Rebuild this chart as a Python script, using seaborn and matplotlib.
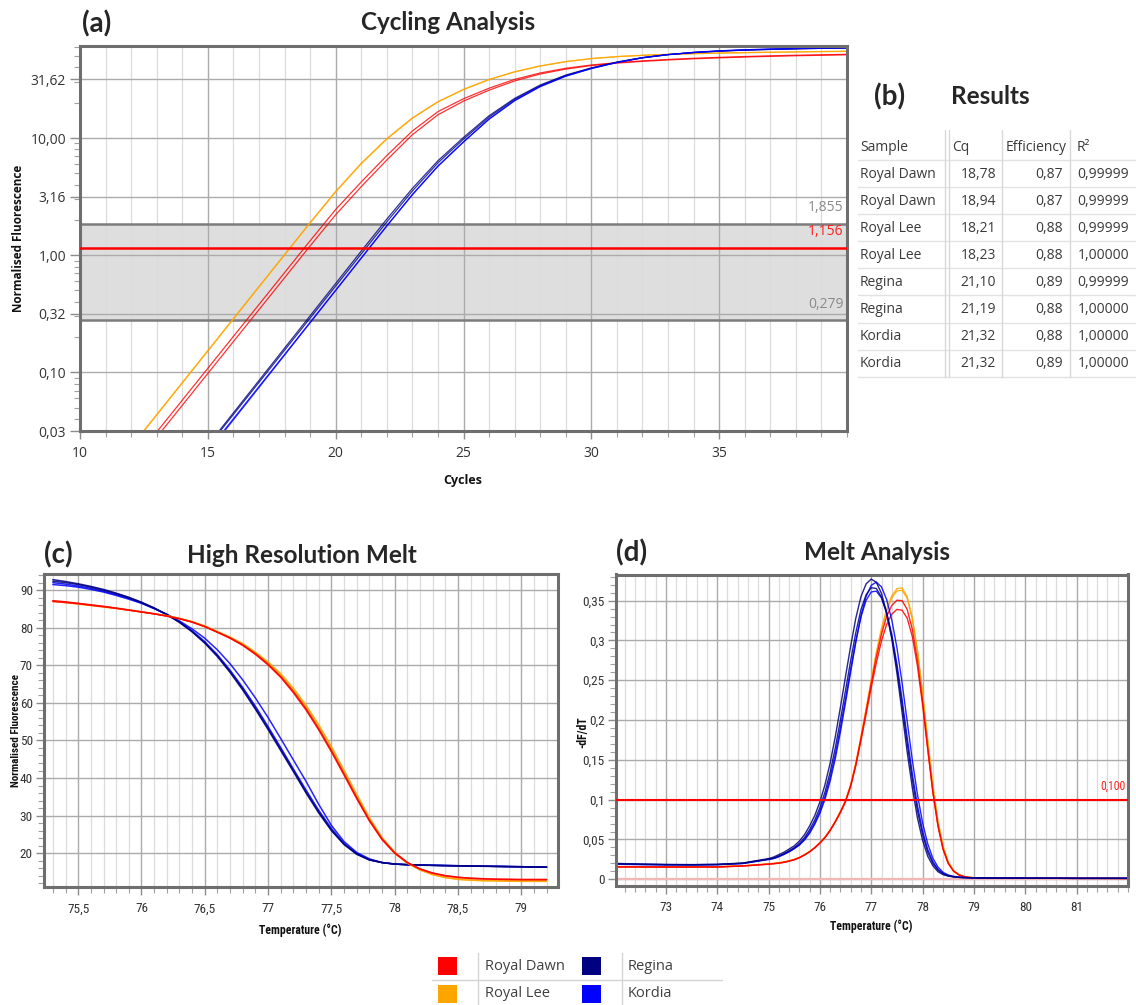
import numpy as np
import pandas as pd
import matplotlib
matplotlib.use("Agg")
import matplotlib.pyplot as plt
import seaborn as sns
from matplotlib import ticker, font_manager
from matplotlib.patches import Rectangle
from matplotlib.lines import Line2D

# ======================= DATA =======================
varieties = ["Royal Dawn", "Royal Lee", "Regina", "Kordia"]
variety_colors = ["#FF0000", "#FFA500", "#000080", "#0000FF"]

# ---- (a) Cycling analysis: log10 of normalised fluorescence per cycle ----
cycles = [12, 13, 14, 15, 16, 17, 18, 19, 20, 21, 22, 23, 24, 25, 26, 27, 28, 29, 30,
          31, 32, 33, 34, 35, 36, 37, 38, 39, 40]
amp_dawn1 = [-1.781, -1.509, -1.237, -0.965, -0.693, -0.421, -0.149, 0.123, 0.390, 0.625,
             0.850, 1.060, 1.225, 1.335, 1.425, 1.500, 1.555, 1.595, 1.623, 1.643, 1.658,
             1.670, 1.680, 1.688, 1.695, 1.701, 1.706, 1.710, 1.714]
amp_dawn2 = [-1.825, -1.553, -1.281, -1.009, -0.737, -0.465, -0.193, 0.079, 0.345, 0.585,
             0.812, 1.028, 1.198, 1.315, 1.408, 1.487, 1.546, 1.588, 1.618, 1.639, 1.654,
             1.666, 1.676, 1.684, 1.691, 1.697, 1.702, 1.706, 1.710]
amp_lee1 = [-1.632, -1.359, -1.086, -0.813, -0.540, -0.267, 0.006, 0.279, 0.545, 0.785,
            0.995, 1.172, 1.310, 1.415, 1.500, 1.565, 1.615, 1.652, 1.678, 1.695, 1.706,
            1.714, 1.720, 1.725, 1.729, 1.732, 1.735, 1.738, 1.740]
amp_lee2 = [-1.637, -1.364, -1.091, -0.818, -0.545, -0.272, 0.001, 0.274, 0.540, 0.780,
            0.990, 1.168, 1.308, 1.413, 1.498, 1.564, 1.614, 1.651, 1.677, 1.694, 1.705,
            1.713, 1.719, 1.724, 1.728, 1.731, 1.734, 1.737, 1.739]
amp_regina1 = [-2.449, -2.173, -1.897, -1.621, -1.345, -1.069, -0.793, -0.517, -0.241, 0.035,
               0.308, 0.570, 0.806, 1.005, 1.190, 1.338, 1.452, 1.537, 1.598, 1.648, 1.686,
               1.712, 1.729, 1.741, 1.750, 1.756, 1.761, 1.765, 1.768]
amp_regina2 = [-2.455, -2.181, -1.907, -1.633, -1.359, -1.085, -0.811, -0.537, -0.263, 0.011,
               0.284, 0.548, 0.788, 0.990, 1.178, 1.330, 1.446, 1.533, 1.596, 1.646, 1.685,
               1.711, 1.729, 1.741, 1.750, 1.756, 1.761, 1.765, 1.768]
amp_kordia1 = [-2.491, -2.217, -1.943, -1.669, -1.395, -1.121, -0.847, -0.573, -0.299, -0.025,
               0.249, 0.515, 0.758, 0.965, 1.160, 1.318, 1.438, 1.527, 1.592, 1.644, 1.684,
               1.711, 1.730, 1.743, 1.752, 1.758, 1.763, 1.767, 1.770]
amp_kordia2 = [-2.509, -2.233, -1.957, -1.681, -1.405, -1.129, -0.853, -0.577, -0.301, -0.025,
               0.251, 0.518, 0.762, 0.968, 1.163, 1.320, 1.440, 1.529, 1.594, 1.645, 1.685,
               1.712, 1.731, 1.744, 1.753, 1.759, 1.764, 1.768, 1.771]
cyc_threshold = 1.156
cyc_band = [0.279, 1.855]
cyc_threshold_labels = ["1,855", "1,156", "0,279"]
cyc_ytick_exponents = [-1.5, -1.0, -0.5, 0.0, 0.5, 1.0, 1.5]
cyc_xticks = [10, 15, 20, 25, 30, 35]

# ---- (b) Results table ----
table_samples = ["Royal Dawn", "Royal Dawn", "Royal Lee", "Royal Lee",
                 "Regina", "Regina", "Kordia", "Kordia"]
table_cq = [18.78, 18.94, 18.21, 18.23, 21.10, 21.19, 21.32, 21.32]
table_eff = [0.87, 0.87, 0.88, 0.88, 0.89, 0.88, 0.88, 0.89]
table_r2 = [0.99999, 0.99999, 0.99999, 1.00000, 0.99999, 1.00000, 1.00000, 1.00000]
table_header = ["Sample", "Cq", "Efficiency", "R\u00b2"]

# ---- (c) High resolution melt ----
hrm_temp = [75.3, 75.4, 75.5, 75.6, 75.7, 75.8, 75.9, 76.0, 76.1, 76.2,
            76.3, 76.4, 76.5, 76.6, 76.7, 76.8, 76.9, 77.0, 77.1, 77.2,
            77.3, 77.4, 77.5, 77.6, 77.7, 77.8, 77.9, 78.0, 78.1, 78.2,
            78.3, 78.4, 78.5, 78.6, 78.7, 78.8, 78.9, 79.0, 79.1, 79.2]
hrm_dawn1 = [87.2, 86.9, 86.5, 86.1, 85.7, 85.2, 84.7, 84.2, 83.7, 83.1,
             82.4, 81.5, 80.3, 78.8, 77.2, 75.3, 72.9, 70.1, 66.8, 62.7,
             58.1, 52.8, 47.0, 40.8, 34.5, 28.6, 23.6, 20.0, 17.5, 15.8,
             14.7, 14.0, 13.6, 13.35, 13.2, 13.1, 13.05, 13.0, 13.0, 13.0]
hrm_dawn2 = [87.0, 86.7, 86.4, 86.0, 85.6, 85.2, 84.7, 84.2, 83.7, 83.1,
             82.4, 81.5, 80.3, 78.8, 77.3, 75.4, 73.1, 70.3, 67.0, 63.0,
             58.4, 53.1, 47.3, 41.1, 34.8, 28.8, 23.8, 20.1, 17.5, 15.8,
             14.7, 14.0, 13.55, 13.3, 13.15, 13.05, 13.0, 12.95, 12.95, 12.95]
hrm_lee1 = [87.1, 86.8, 86.4, 86.0, 85.6, 85.2, 84.7, 84.2, 83.7, 83.2,
            82.5, 81.6, 80.4, 78.9, 77.4, 75.6, 73.3, 70.6, 67.4, 63.4,
            58.9, 53.6, 47.8, 41.5, 35.1, 29.0, 23.8, 20.0, 17.3, 15.5,
            14.3, 13.55, 13.1, 12.9, 12.75, 12.7, 12.65, 12.6, 12.6, 12.6]
hrm_lee2 = [87.0, 86.7, 86.3, 85.9, 85.5, 85.1, 84.7, 84.2, 83.7, 83.2,
            82.5, 81.6, 80.5, 79.0, 77.5, 75.8, 73.5, 70.9, 67.8, 63.9,
            59.4, 54.2, 48.4, 42.1, 35.7, 29.5, 24.2, 20.3, 17.5, 15.6,
            14.3, 13.5, 13.0, 12.8, 12.65, 12.6, 12.55, 12.5, 12.5, 12.5]
hrm_regina1 = [92.8, 92.3, 91.7, 91.0, 90.2, 89.2, 88.1, 86.8, 85.3, 83.5,
               81.4, 78.9, 75.9, 72.3, 68.1, 63.4, 58.3, 52.9, 47.3, 41.7,
               36.0, 30.7, 26.0, 22.3, 19.7, 18.2, 17.5, 17.1, 16.95, 16.85,
               16.78, 16.71, 16.65, 16.6, 16.54, 16.49, 16.44, 16.4, 16.35, 16.3]
hrm_regina2 = [92.4, 92.0, 91.5, 90.8, 90.0, 89.1, 88.0, 86.7, 85.2, 83.5,
               81.5, 79.0, 76.0, 72.5, 68.3, 63.7, 58.6, 53.2, 47.6, 42.0,
               36.3, 31.0, 26.2, 22.4, 19.8, 18.2, 17.5, 17.1, 16.9, 16.8,
               16.73, 16.66, 16.6, 16.55, 16.5, 16.45, 16.4, 16.35, 16.3, 16.25]
hrm_kordia1 = [92.0, 91.6, 91.1, 90.5, 89.7, 88.8, 87.8, 86.6, 85.1, 83.5,
               81.6, 79.2, 76.3, 72.8, 68.7, 64.1, 59.1, 53.7, 48.1, 42.4,
               36.8, 31.4, 26.6, 22.6, 19.9, 18.3, 17.5, 17.1, 16.95, 16.85,
               16.78, 16.72, 16.66, 16.6, 16.55, 16.5, 16.45, 16.4, 16.35, 16.3]
hrm_kordia2 = [91.5, 91.2, 90.8, 90.2, 89.5, 88.6, 87.6, 86.5, 85.1, 83.6,
               81.8, 79.7, 77.2, 74.1, 70.4, 66.1, 61.3, 56.1, 50.5, 44.8,
               39.1, 33.0, 27.4, 23.1, 20.2, 18.5, 17.5, 17.1, 16.95, 16.85,
               16.78, 16.72, 16.66, 16.6, 16.55, 16.5, 16.45, 16.4, 16.35, 16.3]
hrm_xticks = [75.5, 76.0, 76.5, 77.0, 77.5, 78.0, 78.5, 79.0]
hrm_yticks = [20, 30, 40, 50, 60, 70, 80, 90]

# ---- (d) Melt analysis (-dF/dT) ----
melt_temp = [72.0, 72.5, 73.0, 73.5, 74.0, 74.5,
             75.0, 75.1, 75.2, 75.3, 75.4, 75.5, 75.6, 75.7, 75.8, 75.9,
             76.0, 76.1, 76.2, 76.3, 76.4, 76.5, 76.6, 76.7, 76.8, 76.9,
             77.0, 77.1, 77.2, 77.3, 77.4, 77.5, 77.6, 77.7, 77.8, 77.9,
             78.0, 78.1, 78.2, 78.3, 78.4, 78.5, 78.6, 78.7, 78.8, 78.9,
             79.0, 79.5, 80.0, 80.5, 81.0, 81.5, 82.0]
melt_dawn1 = [0.0156, 0.0155, 0.0154, 0.0154, 0.0155, 0.0167,
              0.0190, 0.0196, 0.0203, 0.0214, 0.0228, 0.0246, 0.0271, 0.0306, 0.0346, 0.0396,
              0.0456, 0.0526, 0.0616, 0.0726, 0.0846, 0.0986, 0.1180, 0.1445, 0.1770, 0.2110,
              0.2460, 0.2790, 0.3080, 0.3300, 0.3440, 0.3505, 0.3500, 0.3390, 0.3140, 0.2745,
              0.2230, 0.1650, 0.1100, 0.0670, 0.0375, 0.0200, 0.0105, 0.0058, 0.0035, 0.0024,
              0.0019, 0.0015, 0.0014, 0.0013, 0.0012, 0.0012, 0.0011]
melt_dawn2 = [0.0156, 0.0155, 0.0154, 0.0154, 0.0155, 0.0167,
              0.0190, 0.0196, 0.0203, 0.0214, 0.0228, 0.0246, 0.0271, 0.0305, 0.0345, 0.0395,
              0.0455, 0.0524, 0.0612, 0.0720, 0.0838, 0.0975, 0.1165, 0.1425, 0.1740, 0.2070,
              0.2405, 0.2720, 0.2995, 0.3200, 0.3330, 0.3390, 0.3380, 0.3280, 0.3050, 0.2680,
              0.2190, 0.1630, 0.1095, 0.0670, 0.0375, 0.0200, 0.0105, 0.0058, 0.0035, 0.0024,
              0.0019, 0.0015, 0.0014, 0.0013, 0.0012, 0.0012, 0.0011]
melt_lee1 = [0.0160, 0.0158, 0.0157, 0.0157, 0.0158, 0.0170,
             0.0194, 0.0200, 0.0207, 0.0218, 0.0232, 0.0250, 0.0275, 0.0310, 0.0350, 0.0400,
             0.0460, 0.0530, 0.0620, 0.0730, 0.0850, 0.0990, 0.1190, 0.1460, 0.1790, 0.2140,
             0.2500, 0.2850, 0.3150, 0.3390, 0.3560, 0.3650, 0.3660, 0.3550, 0.3280, 0.2860,
             0.2320, 0.1720, 0.1160, 0.0710, 0.0400, 0.0210, 0.0110, 0.0060, 0.0036, 0.0025,
             0.0020, 0.0015, 0.0014, 0.0013, 0.0012, 0.0012, 0.0011]
melt_lee2 = [0.0160, 0.0158, 0.0157, 0.0157, 0.0158, 0.0170,
             0.0194, 0.0200, 0.0207, 0.0218, 0.0232, 0.0250, 0.0274, 0.0308, 0.0348, 0.0398,
             0.0457, 0.0527, 0.0615, 0.0725, 0.0845, 0.0985, 0.1180, 0.1450, 0.1775, 0.2125,
             0.2485, 0.2835, 0.3130, 0.3370, 0.3535, 0.3620, 0.3630, 0.3530, 0.3275, 0.2870,
             0.2340, 0.1750, 0.1190, 0.0730, 0.0420, 0.0220, 0.0115, 0.0062, 0.0037, 0.0025,
             0.0020, 0.0015, 0.0014, 0.0013, 0.0012, 0.0012, 0.0011]
melt_regina1 = [0.0200, 0.0192, 0.0187, 0.0185, 0.0188, 0.0205,
                0.026, 0.028, 0.031, 0.034, 0.038, 0.042, 0.048, 0.056, 0.067, 0.080,
                0.097, 0.119, 0.146, 0.179, 0.216, 0.255, 0.293, 0.328, 0.355, 0.371,
                0.377, 0.373, 0.359, 0.335, 0.302, 0.259, 0.210, 0.160, 0.115, 0.077,
                0.049, 0.029, 0.017, 0.0095, 0.0058, 0.0040, 0.0030, 0.0024, 0.0021, 0.0019,
                0.0018, 0.0015, 0.0014, 0.0013, 0.0012, 0.0012, 0.0012]
melt_regina2 = [0.0196, 0.0189, 0.0184, 0.0183, 0.0186, 0.0202,
                0.0252, 0.0267, 0.0294, 0.0323, 0.0359, 0.0398, 0.0451, 0.0523, 0.0622, 0.0743,
                0.0897, 0.1097, 0.1346, 0.1650, 0.2000, 0.2375, 0.2748, 0.3099, 0.3386, 0.3574,
                0.3662, 0.3652, 0.3545, 0.3340, 0.3044, 0.2654, 0.2193, 0.1708, 0.1254, 0.0863,
                0.0560, 0.0342, 0.0201, 0.0114, 0.0068, 0.0044, 0.0032, 0.0025, 0.0022, 0.0020,
                0.0018, 0.0015, 0.0014, 0.0013, 0.0012, 0.0012, 0.0012]
melt_kordia1 = [0.0194, 0.0188, 0.0184, 0.0183, 0.0186, 0.0200,
                0.0254, 0.0262, 0.0284, 0.0313, 0.0345, 0.0385, 0.0429, 0.0492, 0.0577, 0.0690,
                0.0827, 0.1006, 0.1234, 0.1514, 0.1849, 0.2220, 0.2605, 0.2976, 0.3307, 0.3553,
                0.3692, 0.3732, 0.3672, 0.3514, 0.3258, 0.2911, 0.2472, 0.1984, 0.1498, 0.1065,
                0.0708, 0.0446, 0.0264, 0.0154, 0.0087, 0.0054, 0.0038, 0.0029, 0.0023, 0.0020,
                0.0018, 0.0015, 0.0014, 0.0013, 0.0012, 0.0012, 0.0012]
melt_kordia2 = [0.0190, 0.0184, 0.0181, 0.0180, 0.0183, 0.0198,
                0.0248, 0.0261, 0.0285, 0.0314, 0.0347, 0.0386, 0.0434, 0.0502, 0.0593, 0.0709,
                0.0854, 0.1042, 0.1279, 0.1568, 0.1906, 0.2273, 0.2644, 0.2996, 0.3295, 0.3503,
                0.3609, 0.3619, 0.3532, 0.3349, 0.3074, 0.2707, 0.2263, 0.1785, 0.1327, 0.0926,
                0.0608, 0.0376, 0.0222, 0.0128, 0.0074, 0.0047, 0.0034, 0.0026, 0.0022, 0.0020,
                0.0018, 0.0015, 0.0014, 0.0013, 0.0012, 0.0012, 0.0012]
melt_threshold = 0.1
melt_threshold_label = "0,100"
melt_xticks = [73, 74, 75, 76, 77, 78, 79, 80, 81]
melt_yticks = [0.0, 0.05, 0.10, 0.15, 0.20, 0.25, 0.30, 0.35]

# ======================= STYLE =======================
sns.set_style("white")
plt.rcParams["font.family"] = ["Open Sans", "DejaVu Sans"]
avail = {f.name for f in font_manager.fontManager.ttflist}
NARROW = next((n for n in ["Liberation Sans Narrow", "DejaVu Sans Condensed", "Roboto Condensed"]
               if n in avail), "Open Sans")
TITLE = "Lato" if "Lato" in avail else "Open Sans"
LETTER_SIZE = 20
TITLE_SIZE = 17.5

W, H = 1136, 1005
fig = plt.figure(figsize=(W / 100, H / 100), dpi=100)
fig.patch.set_facecolor("white")


def rect(l, t, r, b):
    return [l / W, 1 - b / H, (r - l) / W, (b - t) / H]


def fxy(x, y):
    return x / W, 1 - y / H


def fmt(v, pattern="%g"):
    return (pattern % v).replace(".", ",")


SPINE = "#6E6E6E"
GRID_MAJ = "#ABABAB"
GRID_MIN = "#DCDCDC"
TXT = "#333333"


def style_axes(ax, tick_size, family):
    ax.set_axisbelow(True)
    for s in ax.spines.values():
        s.set_visible(True)
        s.set_color(SPINE)
        s.set_linewidth(2.2)
    ax.tick_params(which="major", direction="out", length=6, width=1, color="#8C8C8C",
                   labelsize=tick_size, labelcolor=TXT, left=True, bottom=True)
    ax.tick_params(which="minor", direction="out", length=4, width=0.8, color="#A0A0A0",
                   left=True, bottom=True)
    for lab in ax.get_xticklabels() + ax.get_yticklabels():
        lab.set_family(family)
    ax.set_xlabel("")
    ax.set_ylabel("")


curve_labels = ["Royal Dawn 1", "Royal Dawn 2", "Royal Lee 1", "Royal Lee 2",
                "Regina 1", "Regina 2", "Kordia 1", "Kordia 2"]
curve_color = dict(zip(curve_labels, [variety_colors[i] for i in [0, 0, 1, 1, 2, 2, 3, 3]]))


def draw_curves(ax, x, series, order, lw, alpha):
    for name in order:
        sns.lineplot(x=x, y=series[name], color=curve_color[name], linewidth=lw,
                     alpha=alpha, ax=ax, estimator=None, sort=False, legend=False)


def title_pair(letter, lx, ly, title, tx, ty, ha="center"):
    fig.text(*fxy(lx, ly), letter, fontsize=LETTER_SIZE, fontweight="bold", family=TITLE,
             ha="left", va="center")
    fig.text(*fxy(tx, ty), title, fontsize=TITLE_SIZE, fontweight="bold", family=TITLE,
             ha=ha, va="center")


# ======================= (a) Cycling Analysis =======================
ax_a = fig.add_axes(rect(80, 46, 847, 431))
amp = {"Royal Dawn 1": amp_dawn1, "Royal Dawn 2": amp_dawn2,
       "Royal Lee 1": amp_lee1, "Royal Lee 2": amp_lee2,
       "Regina 1": amp_regina1, "Regina 2": amp_regina2,
       "Kordia 1": amp_kordia1, "Kordia 2": amp_kordia2}
amp_lin = {k: 10 ** np.array(v) for k, v in amp.items()}
ax_a.set_yscale("log")
draw_curves(ax_a, cycles, amp_lin,
            ["Royal Dawn 1", "Royal Dawn 2", "Royal Lee 1", "Royal Lee 2",
             "Regina 1", "Regina 2", "Kordia 1", "Kordia 2"], lw=0.9, alpha=0.8)
ax_a.set_xlim(10, 40)
ax_a.set_ylim(10 ** -1.5, 10 ** 1.785)
yt = 10 ** np.array(cyc_ytick_exponents)
ax_a.yaxis.set_major_locator(ticker.FixedLocator(yt))
ax_a.yaxis.set_major_formatter(ticker.FixedFormatter([fmt(v, "%.2f") for v in yt]))
ax_a.yaxis.set_minor_locator(ticker.LogLocator(base=10, subs=np.arange(2, 10), numticks=20))
ax_a.yaxis.set_minor_formatter(ticker.NullFormatter())
ax_a.xaxis.set_major_locator(ticker.FixedLocator(cyc_xticks))
ax_a.xaxis.set_minor_locator(ticker.MultipleLocator(1))
ax_a.grid(which="major", color=GRID_MAJ, linewidth=1.0)
ax_a.grid(which="minor", axis="x", color=GRID_MIN, linewidth=0.9)
ax_a.axhspan(cyc_band[0], cyc_band[1], color="#DEDEDE", zorder=0.2, linewidth=0)
for v in cyc_band:
    ax_a.axhline(v, color="#7C7C7C", linewidth=1.8, zorder=1.6)
ax_a.axhline(cyc_threshold, color="#FF0000", linewidth=1.8, zorder=3)
for val, lab, col in zip([cyc_band[1], cyc_threshold, cyc_band[0]], cyc_threshold_labels,
                         ["#8A8A8A", "#FF2020", "#8A8A8A"]):
    ax_a.annotate(lab, xy=(1, val), xycoords=("axes fraction", "data"), xytext=(-2.5, 11.5),
                  textcoords="offset points", ha="right", va="center", color=col, fontsize=10)
style_axes(ax_a, 10, "Open Sans")
ax_a.tick_params(axis="y", which="major", length=7, pad=3)
ax_a.tick_params(axis="x", which="major", pad=5)

title_pair("(a)", 82, 24, "Cycling Analysis", 448, 23)
fig.text(*fxy(19, 238), "Normalised Fluorescence", fontsize=8.5, fontweight="bold",
         rotation=90, ha="center", va="center", color="#111111")
fig.text(*fxy(463, 480), "Cycles", fontsize=9, fontweight="bold", ha="center", va="center",
         color="#111111")

# ======================= (b) Results table =======================
title_pair("(b)", 874, 97, "Results", 951, 97, ha="left")
header_y = 147
row_y0, row_dy = 175, 26.9
sep_y0, sep_dy = 160, 27.1
TBL = "#3A3A3A"
fig.text(*fxy(860, header_y), table_header[0], fontsize=10, color=TBL, ha="left", va="center")
fig.text(*fxy(952, header_y), table_header[1], fontsize=10, color=TBL, ha="left", va="center")
fig.text(*fxy(1006, header_y), table_header[2], fontsize=10, color=TBL, ha="left", va="center")
fig.text(*fxy(1077, header_y), table_header[3], fontsize=10, color=TBL, ha="left", va="center")
for i, (s, c, e, r) in enumerate(zip(table_samples, table_cq, table_eff, table_r2)):
    y = row_y0 + i * row_dy
    fig.text(*fxy(860, y), s, fontsize=10, color=TBL, ha="left", va="center")
    fig.text(*fxy(996, y), fmt(c, "%.2f"), fontsize=10, color=TBL, ha="right", va="center")
    fig.text(*fxy(1063, y), fmt(e, "%.2f"), fontsize=10, color=TBL, ha="right", va="center")
    fig.text(*fxy(1129, y), fmt(r, "%.5f"), fontsize=10, color=TBL, ha="right", va="center")
for i in range(len(table_samples) + 1):
    y = 1 - (sep_y0 + i * sep_dy) / H
    fig.add_artist(Line2D([858 / W, 1136 / W], [y, y], color="#E2E2E2", linewidth=1.0))
for x in [945, 948.5, 1002, 1070]:
    fig.add_artist(Line2D([x / W, x / W], [1 - 130 / H, 1 - 377 / H], color="#D8D8D8",
                          linewidth=1.0))

# ======================= (c) High Resolution Melt =======================
ax_c = fig.add_axes(rect(44, 574, 558, 887))
hrm = {"Royal Dawn 1": hrm_dawn1, "Royal Dawn 2": hrm_dawn2,
       "Royal Lee 1": hrm_lee1, "Royal Lee 2": hrm_lee2,
       "Regina 1": hrm_regina1, "Regina 2": hrm_regina2,
       "Kordia 1": hrm_kordia1, "Kordia 2": hrm_kordia2}
draw_curves(ax_c, hrm_temp, hrm,
            ["Kordia 2", "Kordia 1", "Regina 2", "Regina 1",
             "Royal Lee 1", "Royal Lee 2", "Royal Dawn 2", "Royal Dawn 1"], lw=1.1, alpha=0.85)
ax_c.set_xlim(75.23, 79.29)
ax_c.set_ylim(11.0, 94.3)
ax_c.xaxis.set_major_locator(ticker.FixedLocator(hrm_xticks))
ax_c.xaxis.set_major_formatter(ticker.FixedFormatter([fmt(v) for v in hrm_xticks]))
ax_c.xaxis.set_minor_locator(ticker.MultipleLocator(0.1))
ax_c.yaxis.set_major_locator(ticker.FixedLocator(hrm_yticks))
ax_c.yaxis.set_major_formatter(ticker.FixedFormatter([fmt(v) for v in hrm_yticks]))
ax_c.yaxis.set_minor_locator(ticker.MultipleLocator(2))
ax_c.grid(which="major", color=GRID_MAJ, linewidth=1.0)
ax_c.grid(which="minor", axis="x", color=GRID_MIN, linewidth=0.9)
style_axes(ax_c, 9.5, NARROW)
ax_c.tick_params(axis="y", which="major", pad=2)
ax_c.tick_params(axis="x", which="major", pad=5)

title_pair("(c)", 44, 555, "High Resolution Melt", 302, 555)
fig.text(*fxy(16, 730), "Normalised Fluorescence", fontsize=8, fontweight="bold", family=NARROW,
         rotation=90, ha="center", va="center", color="#111111")
fig.text(*fxy(300, 930), "Temperature (\u00b0C)", fontsize=8.5, fontweight="bold", family=NARROW,
         ha="center", va="center", color="#111111")

# ======================= (d) Melt Analysis =======================
ax_d = fig.add_axes(rect(616, 574.5, 1128, 886))
melt = {"Royal Dawn 1": melt_dawn1, "Royal Dawn 2": melt_dawn2,
        "Royal Lee 1": melt_lee1, "Royal Lee 2": melt_lee2,
        "Regina 1": melt_regina1, "Regina 2": melt_regina2,
        "Kordia 1": melt_kordia1, "Kordia 2": melt_kordia2}
ax_d.axhline(0, color="#F2B8B8", linewidth=1.6, zorder=1.5)
draw_curves(ax_d, melt_temp, melt,
            ["Royal Lee 1", "Royal Lee 2", "Royal Dawn 1", "Royal Dawn 2",
             "Kordia 2", "Kordia 1", "Regina 2", "Regina 1"], lw=1.0, alpha=0.85)
ax_d.axhline(melt_threshold, color="#FF0000", linewidth=1.5, zorder=3)
ax_d.annotate(melt_threshold_label, xy=(1, melt_threshold), xycoords=("axes fraction", "data"),
              xytext=(-1.5, 9.5), textcoords="offset points", ha="right", va="center",
              color="#FF2020", fontsize=8.5, family=NARROW)
ax_d.set_xlim(72.03, 82.0)
ax_d.set_ylim(-0.0084, 0.3828)
ax_d.xaxis.set_major_locator(ticker.FixedLocator(melt_xticks))
ax_d.xaxis.set_major_formatter(ticker.FixedFormatter([fmt(v) for v in melt_xticks]))
ax_d.xaxis.set_minor_locator(ticker.MultipleLocator(0.2))
ax_d.yaxis.set_major_locator(ticker.FixedLocator(melt_yticks))
ax_d.yaxis.set_major_formatter(ticker.FixedFormatter([fmt(v) for v in melt_yticks]))
ax_d.yaxis.set_minor_locator(ticker.MultipleLocator(0.01))
ax_d.grid(which="major", color=GRID_MAJ, linewidth=1.0)
ax_d.grid(which="minor", axis="x", color=GRID_MIN, linewidth=0.9)
style_axes(ax_d, 9.5, NARROW)
ax_d.tick_params(axis="y", which="major", pad=2)
ax_d.tick_params(axis="x", which="major", pad=5)

title_pair("(d)", 616, 553, "Melt Analysis", 877, 552)
fig.text(*fxy(583, 732), "-dF/dT", fontsize=8.5, fontweight="bold", family=NARROW,
         rotation=90, ha="center", va="center", color="#111111")
fig.text(*fxy(871, 926), "Temperature (\u00b0C)", fontsize=8.5, fontweight="bold", family=NARROW,
         ha="center", va="center", color="#111111")

# ======================= Legend =======================
legend_cells = [(0, 0), (0, 1), (1, 0), (1, 1)]  # (column, row) for each variety
sq_x = [438, 582]
txt_x = [485, 628]
row_c = [966, 993.5]
for name, colr, (ci, ri) in zip(varieties, variety_colors, legend_cells):
    x0 = sq_x[ci]
    y0 = row_c[ri] + 9
    fig.add_artist(Rectangle(fxy(x0, y0), 18.5 / W, 18 / H, transform=fig.transFigure,
                             facecolor=colr, edgecolor="none"))
    fig.text(*fxy(txt_x[ci], row_c[ri]), name, fontsize=10.5, color="#404040",
             ha="left", va="center")
for x in [478.3, 622.3]:
    fig.add_artist(Line2D([x / W, x / W], [1 - 953 / H, 1 - 1005 / H], color="#D4D4D4",
                          linewidth=1.0))
fig.add_artist(Line2D([432 / W, 722 / W], [1 - 979.5 / H, 1 - 979.5 / H], color="#D4D4D4",
                      linewidth=1.0))

fig.savefig("out.png", dpi=100, facecolor="white")
